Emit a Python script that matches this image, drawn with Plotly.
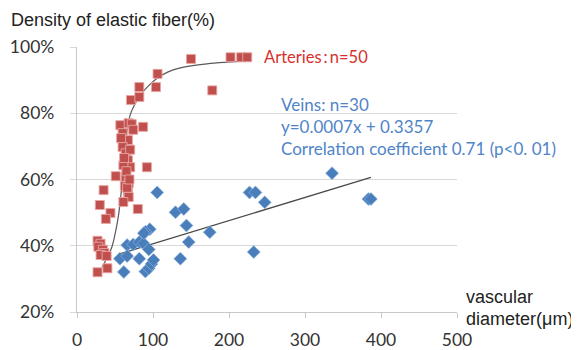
import plotly.graph_objects as go

# ---- data ----
artery_x = [150, 202, 216, 224, 178, 106, 82, 104, 71, 82, 57, 68, 72, 87, 60, 67, 60, 64, 67, 70,
            92, 64, 51, 68, 67, 68, 61, 80, 35, 30, 44, 38, 27, 31, 28, 34, 36, 31, 39, 27,
            40, 63, 70, 61, 74, 65, 62, 66, 58, 69]
artery_y = [96.4, 96.9, 96.9, 96.9, 86.9, 91.9, 87.9, 87.9, 84.0, 84.9, 76.4, 77.0, 76.7, 75.9, 74.0, 71.9, 69.8, 67.9, 65.8, 63.7,
            63.7, 60.7, 61.0, 58.9, 56.2, 54.7, 53.2, 51.1, 56.8, 52.3, 49.9, 48.1, 41.5, 40.6, 39.7, 38.8, 37.8, 37.2, 36.9, 32.0,
            33.2, 58.0, 69.0, 64.3, 75.0, 62.5, 66.5, 57.5, 72.5, 60.0]

vein_x = [105.5, 129.6, 140.5, 144, 174.7, 147, 136, 95.8, 90, 66, 74, 82, 87.5, 94.5, 56.4,
          66, 82, 61.6, 90, 94.5, 98, 100.7, 227, 234.8, 247, 232.6, 335.6, 383.4, 386.7, 88]
vein_y = [56.1, 50.1, 51.1, 46.1, 44.1, 41.1, 36.1, 45.0, 44.2, 40.2, 40.4, 41.1, 40.7, 38.9, 36.1,
          36.9, 36.1, 32.1, 32.2, 33.2, 34.5, 35.7, 56.1, 56.1, 53.1, 38.1, 61.9, 54.1, 54.1, 43.8]

# artery trend curve
curve_x = [33, 40, 46, 51, 55, 58.5, 60, 62, 64, 70, 78, 84, 95, 105.5, 120, 136, 171, 198, 222]
curve_y = [33.5, 36.5, 39.7, 44.5, 49.8, 56.8, 60, 66, 71.5, 79.5, 83.5, 85.7, 88.5, 90.6, 92.5, 93.7, 94.9, 95.4, 95.7]

# vein regression: y = 0.0007x + 0.3357 (fraction) -> percent
vein_slope = 0.0007
vein_intercept = 0.3357

y_ticks = [20, 40, 60, 80, 100]
y_tick_labels = ["20%", "40%", "60%", "80%", "100%"]
x_ticks = [0, 100, 200, 300, 400, 500]
x_tick_labels = ["0", "100", "200", "300", "400", "500"]

fig = go.Figure()

fig.add_trace(go.Scatter(
    x=curve_x, y=curve_y, mode="lines", line=dict(color="#5a5a5a", width=1.2, shape="spline"),
    hoverinfo="skip", showlegend=False))

lx = [min(vein_x), max(vein_x)]
ly = [100 * (vein_slope * v + vein_intercept) for v in lx]
fig.add_trace(go.Scatter(
    x=lx, y=ly, mode="lines", line=dict(color="#4a4a4a", width=1.3),
    hoverinfo="skip", showlegend=False))

fig.add_trace(go.Scatter(
    x=artery_x, y=artery_y, mode="markers", name="Arteries",
    marker=dict(symbol="square", size=9, color="rgb(192,80,77)",
                line=dict(color="rgba(232,165,163,0.9)", width=1)),
    showlegend=False))

fig.add_trace(go.Scatter(
    x=vein_x, y=vein_y, mode="markers", name="Veins",
    marker=dict(symbol="diamond", size=10, color="rgb(74,126,187)",
                line=dict(color="rgba(150,185,225,0.8)", width=0.8)),
    showlegend=False))

tick_font = dict(family="Lato, 'Open Sans', sans-serif", size=17.5, color="#333333")
fig.update_xaxes(range=[0, 500], tickvals=x_ticks, ticktext=x_tick_labels, showgrid=False, zeroline=False,
                 showline=True, linecolor="#C8C8C8", linewidth=1.3,
                 ticks="outside", ticklen=5, tickcolor="#C8C8C8",
                 tickfont=tick_font, ticklabelstandoff=7, automargin=False)
fig.update_yaxes(range=[20, 100], tickvals=y_ticks, ticktext=y_tick_labels, showgrid=True,
                 gridcolor="#D9D9D9", gridwidth=1.3, zeroline=False,
                 showline=True, linecolor="#C8C8C8", linewidth=1.3,
                 ticks="outside", ticklen=6, tickcolor="#D9D9D9",
                 tickfont=tick_font, ticklabelstandoff=12, automargin=False)

# the page places the figure 8px in from the top-left corner, so the figure is 8px smaller
OFF = 8
W, H = 579 - OFF, 350 - OFF
ml, mr, mt, mb = 77 - OFF, 122, 47 - OFF, 38
pw, ph = W - ml - mr, H - mt - mb

def px(xp):
    return (xp - OFF - ml) / pw

def py(yp):
    return (H - mb - (yp - OFF)) / ph

title_font = dict(family="'Liberation Sans', Arial, sans-serif", size=18, color="#222222")
xtitle_font = dict(family="'Liberation Sans', Arial, sans-serif", size=18, color="#222222")
ann_font_blue = dict(family="Lato, 'Open Sans', sans-serif", size=17, color="rgb(80,132,200)")
ann_font_red = dict(family="Lato, 'Open Sans', sans-serif", size=16.5, color="rgb(215,48,45)")

annotations = [
    dict(text="Density of elastic fiber(%)", x=px(10), y=py(20), xanchor="left", yanchor="middle", font=title_font),
    dict(text="vascular", x=px(465), y=py(297), xanchor="left", yanchor="middle", font=xtitle_font),
    dict(text="diameter(μm)", x=px(465), y=py(318.5), xanchor="left", yanchor="middle", font=xtitle_font),
    dict(text="Arteries\u2009:\u2009n=50", x=px(263), y=py(57), xanchor="left", yanchor="middle", font=ann_font_red),
    dict(text="Veins: n=30", x=px(280), y=py(105), xanchor="left", yanchor="middle", font=ann_font_blue),
    dict(text="y=0.0007x + 0.3357", x=px(280), y=py(126.7), xanchor="left", yanchor="middle", font=ann_font_blue),
    dict(text="Correlation coefficient 0.71 (p&lt;0. 01)", x=px(280), y=py(148.3), xanchor="left", yanchor="middle", font=ann_font_blue),
]
for a in annotations:
    a.update(xref="paper", yref="paper", showarrow=False, borderpad=0)

fig.update_layout(
    width=W, height=H, margin=dict(l=ml, r=mr, t=mt, b=mb, autoexpand=False),
    paper_bgcolor="white", plot_bgcolor="white",
    annotations=annotations, showlegend=False)

fig.write_html("out.html")
